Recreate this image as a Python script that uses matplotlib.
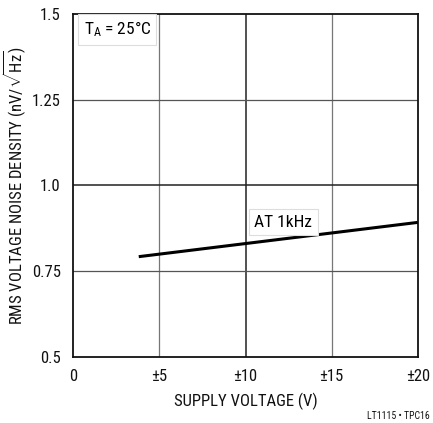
import matplotlib
matplotlib.use("Agg")
import matplotlib.pyplot as plt

fam = ['Roboto Condensed', 'Archivo Narrow', 'DejaVu Sans']
plt.rcParams['font.family'] = fam
plt.rcParams['mathtext.fontset'] = 'custom'
plt.rcParams['mathtext.rm'] = 'Roboto Condensed'
plt.rcParams['mathtext.it'] = 'Roboto Condensed'
plt.rcParams['mathtext.bf'] = 'Roboto Condensed'

# Data
supply_v = [3.8, 20.0]
noise_density = [0.792, 0.892]
x_ticks = [0, 5, 10, 15, 20]
x_tick_labels = ['0', '±5', '±10', '±15', '±20']
y_ticks = [0.5, 0.75, 1.0, 1.25, 1.5]
y_tick_labels = ['0.5', '0.75', '1.0', '1.25', '1.5']

fig = plt.figure(figsize=(4.33, 4.23), dpi=100)
ax = fig.add_axes([0.1693, 0.1567, 0.7954, 0.810])

ax.set_xlim(0, 20)
ax.set_ylim(0.5, 1.5)

# grid
for xv in x_ticks[1:-1]:
    dark = (xv == 10)
    ax.axvline(xv, color='#222222' if dark else '#777777', lw=1.1 if dark else 0.9, zorder=1)
for yv in y_ticks[1:-1]:
    dark = (yv == 1.0)
    ax.axhline(yv, color='#222222' if dark else '#555555', lw=1.1 if dark else 0.9, zorder=1)

ax.plot(supply_v, noise_density, color='black', lw=2.2, solid_capstyle='butt', zorder=3)

ax.set_xticks(x_ticks)
ax.set_xticklabels(x_tick_labels)
ax.set_yticks(y_ticks)
ax.set_yticklabels(y_tick_labels)
ax.tick_params(length=0, labelsize=12, colors='#111111')
ax.tick_params(axis='x', pad=9)
ax.tick_params(axis='y', pad=9)

for s in ax.spines.values():
    s.set_linewidth(1.3)
    s.set_color('#111111')

ax.set_xlabel('SUPPLY VOLTAGE (V)', fontsize=12, labelpad=6, color='#111111')
ax.set_ylabel(r'RMS VOLTAGE NOISE DENSITY (nV/$\sqrt{\mathrm{Hz}}$)', fontsize=12, labelpad=3, color='#111111')

bbox = dict(boxstyle='square,pad=0.3', facecolor='white', edgecolor='#dddddd', lw=0.8)
ax.text(0.6, 1.455, r'T$_\mathrm{A}$ = 25°C', fontsize=12.5, ha='left', va='center', bbox=bbox, zorder=4)
ax.text(12.2, 0.893, 'AT 1kHz', fontsize=12.5, ha='center', va='center', bbox=bbox, zorder=4)

fig.text(0.993, 0.004, 'LT1115 • TPC16', fontsize=7, ha='right', va='bottom', color='#111111')

fig.savefig('out.png', dpi=100)
